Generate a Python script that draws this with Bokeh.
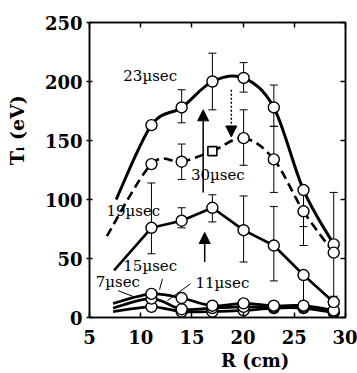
import numpy as np
from bokeh.plotting import figure
from bokeh.models import (LinearAxis, Range1d, Label, Whisker, TeeHead, Arrow,
                          NormalHead, ColumnDataSource, FixedTicker)
from bokeh.embed import file_html
from bokeh.resources import INLINE

# ---------------- data ----------------
R = [11.05, 14.0, 17.0, 20.05, 23.0, 25.9, 28.85]
t23 = [163, 178, 200, 203, 178, 108, 62]
t30 = [130, 132, 141, 152, 134, 90, 55]
t19 = [76, 82, 93, 74, 61, 36, 13]
t15 = [20, 16.5, 10, 12, 10, 10, 6]
t11 = [16, 7, 8, 9, 9, 9, 5]
t7 = [9, 5, 5, 6, 8, 8, 4]
t30_square = 2            # index of the point drawn as a square

# left ends of the curves (no marker)
start23 = (7.6, 100)
start30 = (6.7, 69)
start19 = (7.4, 40)
start15 = (7.3, 12)
start11 = (7.3, 8)
start7 = (7.3, 5)

# error bars
err23_R = [14.0, 17.0, 20.05, 23.0, 25.9, 28.85]
err23_lo = [165, 176, 191, 162, 77, 18]
err23_hi = [193, 224, 216, 197, 108, 106]
err30_R = [14.0, 20.05, 23.0, 25.9]
err30_lo = [117, 129, 106, 61]
err30_hi = [147, 176, 162, 90]
err19_R = [11.05, 14.0, 17.0, 20.05, 23.0, 25.9]
err19_lo = [54, 76, 81, 47, 31, 10]
err19_hi = [114, 93, 104, 103, 94, 36]

xticks = [5, 10, 15, 20, 25, 30]
yticks = [0, 50, 100, 150, 200, 250]

labels = ["23\u00b5sec", "30\u00b5sec", "19\u00b5sec", "15\u00b5sec", "7\u00b5sec", "11\u00b5sec"]
label_R = [8.3, 14.9, 6.65, 8.3, 5.6, 15.35]
label_y = [205, 121, 90, 44, 30, 29.5]

leader_x0 = [7.8, 12.13, 14.86]
leader_y0 = [22.7, 32.8, 28.6]
leader_x1 = [9.3, 11.84, 12.6]
leader_y1 = [17.7, 23.6, 14.3]

arrows = [  # x, y_start, y_end, dash
    (16.1, 106, 176, "solid"),
    (16.25, 47, 72, "solid"),
    (18.85, 193, 153, "2 2"),
]

SERIF = "DejaVu Serif"
PADX = "\u00a0" * 12   # shifts the axis titles off-centre like the reference
PADY = "\u00a0" * 12

p = figure(width=357, height=373, x_range=Range1d(5, 30), y_range=Range1d(0, 250),
           output_backend="svg", toolbar_location=None,
           min_border_left=89, min_border_right=12, min_border_top=22,
           min_border_bottom=54)
p.grid.visible = False
p.outline_line_color = "black"
p.outline_line_width = 1.5
p.background_fill_color = "white"
p.border_fill_color = "white"

xa = p.below[0]
ya = p.left[0]
xa.ticker = FixedTicker(ticks=xticks)
ya.ticker = FixedTicker(ticks=yticks)
for ax in (xa, ya):
    ax.major_label_text_font = SERIF
    ax.major_label_text_font_style = "bold"
    ax.major_label_text_font_size = "18px"
    ax.major_label_text_color = "black"
    ax.axis_line_width = 1.5
    ax.major_tick_line_width = 1.5
    ax.minor_tick_line_color = None
    ax.axis_label_text_font = SERIF
    ax.axis_label_text_font_style = "bold"
    ax.axis_label_text_font_size = "18px"
    ax.axis_label_text_color = "black"
xa.major_tick_in = 5
xa.major_tick_out = 0
xa.major_label_standoff = 12
xa.axis_label = PADX + "R (cm)"
xa.axis_label_standoff = 3
ya.major_tick_in = 3
ya.major_tick_out = 3
ya.major_label_standoff = 4
ya.axis_label = PADY + "T\u1d62 (eV)"
ya.axis_label_text_font_size = "19px"
ya.axis_label_standoff = 14

for loc, tk in (("above", xticks), ("right", yticks)):
    ax = LinearAxis(ticker=FixedTicker(ticks=tk), major_label_text_font_size="1px",
                    major_label_overrides={t: "" for t in tk},
                    major_tick_in=5, major_tick_out=0, minor_tick_line_color=None,
                    axis_line_width=1.5, major_tick_line_width=1.5, major_label_standoff=0)
    p.add_layout(ax, loc)


def smooth(xs, ys):
    P = np.column_stack([xs, ys]).astype(float)
    P2 = np.vstack([P[0], P, P[-1]])
    x0, y0, x1, y1, cx0, cy0, cx1, cy1 = ([] for _ in range(8))
    for i in range(1, len(P2) - 2):
        a, b, c, d = P2[i - 1], P2[i], P2[i + 1], P2[i + 2]
        c1 = b + (c - a) / 6.0
        c2 = c - (d - b) / 6.0
        x0.append(b[0]); y0.append(b[1]); x1.append(c[0]); y1.append(c[1])
        cx0.append(c1[0]); cy0.append(c1[1]); cx1.append(c2[0]); cy1.append(c2[1])
    return dict(x0=x0, y0=y0, x1=x1, y1=y1, cx0=cx0, cy0=cy0, cx1=cx1, cy1=cy1)


# error bars
for ex, lo, hi in ((err23_R, err23_lo, err23_hi), (err30_R, err30_lo, err30_hi),
                   (err19_R, err19_lo, err19_hi)):
    src = ColumnDataSource(dict(x=ex, lo=lo, hi=hi))
    p.add_layout(Whisker(source=src, base="x", lower="lo", upper="hi", dimension="height",
                         line_color="black", line_width=1,
                         upper_head=TeeHead(size=8, line_width=1),
                         lower_head=TeeHead(size=8, line_width=1)))

# curves
for st, ys, lw, dash in ((start23, t23, 3, "solid"), (start30, t30, 2.6, "9 5"),
                         (start15, t15, 2.7, "solid"), (start11, t11, 2.7, "solid"),
                         (start7, t7, 2.7, "solid")):
    d = smooth([st[0]] + R, [st[1]] + ys)
    p.bezier(source=ColumnDataSource(d), x0="x0", y0="y0", x1="x1", y1="y1",
             cx0="cx0", cy0="cy0", cx1="cx1", cy1="cy1",
             line_color="black", line_width=lw, line_dash=dash)
p.line([start19[0]] + R, [start19[1]] + t19, line_color="black", line_width=2.6)

# markers
for ys in (t7, t11, t15, t19, t23):
    p.scatter(R, ys, marker="circle", size=11, fill_color="white",
              line_color="black", line_width=1.4)
idx = [i for i in range(len(R)) if i != t30_square]
p.scatter([R[i] for i in idx], [t30[i] for i in idx], marker="circle", size=11,
          fill_color="white", line_color="black", line_width=1.4)
p.scatter([R[t30_square]], [t30[t30_square]], marker="square", size=9,
          fill_color="white", line_color="black", line_width=1.6)

# leaders
p.segment(leader_x0, leader_y0, leader_x1, leader_y1, line_color="black", line_width=1)

# arrows
for ax_, ys_, ye_, dash in arrows:
    p.add_layout(Arrow(x_start=ax_, y_start=ys_, x_end=ax_, y_end=ye_,
                       line_color="black", line_width=1.5, line_dash=dash,
                       end=NormalHead(size=11, fill_color="black", line_color="black")))

# series labels
for t, lx, ly in zip(labels, label_R, label_y):
    p.add_layout(Label(x=lx, y=ly, text=t, text_font=SERIF, text_font_size="15px",
                       text_align="left", text_baseline="middle", text_color="black"))

open("out.html", "w").write(file_html(p, INLINE))
